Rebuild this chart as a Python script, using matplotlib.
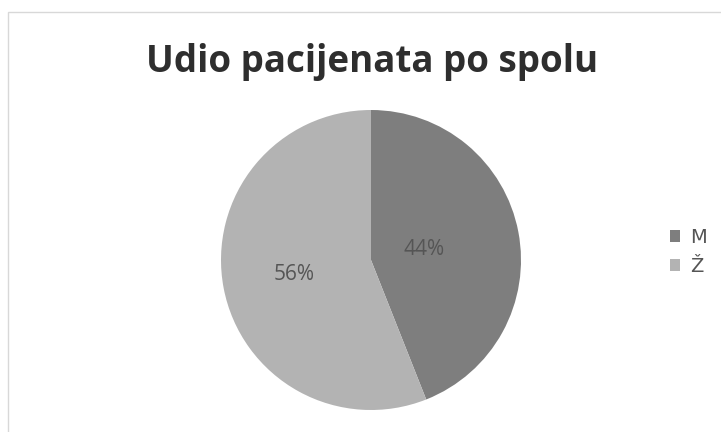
import numpy as np
import matplotlib.pyplot as plt
from matplotlib.patches import Rectangle

# data
labels = ["M", "Ž"]
shares = [44, 56]
colors = ["#7e7e7e", "#b3b3b3"]

title = "Udio pacijenata po spolu"
text_color = "#555555"

fig = plt.figure(figsize=(7.21, 4.32), dpi=100)
fig.patch.set_facecolor("white")

# faint chart border like the scan
fig.patches.append(Rectangle((8 / 721, -0.05), 1.2, (432 - 12) / 432 + 0.05,
                             transform=fig.transFigure, fill=False,
                             edgecolor="#d8d8d8", linewidth=1.0))

fig.text(372 / 721, 1 - 62 / 432, title, ha="center", va="center",
         fontsize=26.5, fontweight="bold", color="#2e2e2e", family="Open Sans")

ax = fig.add_axes([(371 - 150) / 721, (432 - 410) / 432, 300 / 721, 300 / 432])
wedges, _ = ax.pie(shares, colors=colors, startangle=90, counterclock=False,
                   radius=1.0, wedgeprops=dict(linewidth=0))
ax.set_aspect("equal")
ax.set_xlim(-1, 1)
ax.set_ylim(-1, 1)
ax.axis("off")

# percentage labels placed along each wedge's middle angle
label_dist = [0.36, 0.52]
for w, s, d in zip(wedges, shares, label_dist):
    ang = np.deg2rad((w.theta1 + w.theta2) / 2)
    ax.text(d * np.cos(ang), d * np.sin(ang), f"{s}%", ha="center",
            va="center", fontsize=15, color=text_color, family="Open Sans")

handles = [Rectangle((0, 0), 1, 1, facecolor=c, edgecolor="none") for c in colors]
fig.legend(handles, labels, loc="center left",
           bbox_to_anchor=(652 / 721, 1 - 252 / 432), frameon=False,
           fontsize=14, handlelength=0.55, handleheight=0.55, handletextpad=0.5,
           labelspacing=0.5, labelcolor=text_color)

fig.savefig("out.png", dpi=100)
